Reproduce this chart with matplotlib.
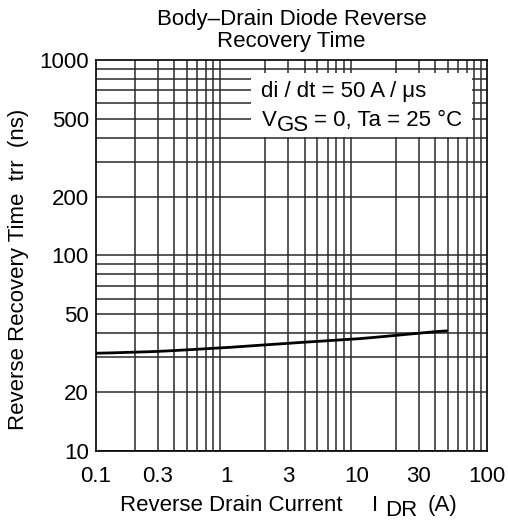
import matplotlib
matplotlib.use("Agg")
import matplotlib.pyplot as plt
from matplotlib.patches import Rectangle
import numpy as np

plt.rcParams['font.family'] = ['Liberation Sans', 'DejaVu Sans']

# trr vs reverse drain current
current = [0.1, 0.3, 1, 3, 10, 30, 50]
trr = [31.5, 32.2, 33.7, 35.5, 37.3, 39.9, 41.3]

x_ticks = [0.1, 0.3, 1, 3, 10, 30, 100]
x_labels = ['0.1', '0.3', '1', '3', '10', '30', '100']
y_ticks = [10, 20, 50, 100, 200, 500, 1000]
y_labels = ['10', '20', '50', '100', '200', '500', '1000']

FS = 16
W, H = 508, 520

fig = plt.figure(figsize=(W / 100, H / 100), dpi=100)
ax = fig.add_axes([95.7 / W, 1 - 450.7 / H, 391.3 / W, 390.7 / H])
ax.set_xscale('log')
ax.set_yscale('log')
ax.set_xlim(0.1, 100)
ax.set_ylim(10, 1000)

# full log grid, 1-9 in every decade
for dec in [0.1, 1, 10]:
    for m in range(2, 10):
        ax.axvline(dec * m, color='#2a2a2a', lw=1.1, zorder=1)
for dec in [10, 100]:
    for m in range(1, 10):
        ax.axhline(dec * m, color='#2a2a2a', lw=1.1, zorder=1)

# smooth curve through the read points (interpolate in log space)
lx = np.log10(current)
xs = np.linspace(lx[0], lx[-1], 200)
ys = np.interp(xs, lx, np.log10(trr))
ys = np.convolve(np.pad(ys, 10, mode='edge'), np.ones(21) / 21, mode='valid')
ax.plot(10 ** xs, 10 ** ys, color='black', lw=2.0, zorder=3, solid_capstyle='butt')

# white box behind the conditions text
ax.add_patch(Rectangle((0.397, 0.803), 0.565, 0.164, transform=ax.transAxes,
                       facecolor='white', edgecolor='none', zorder=2))

ax.set_xticks(x_ticks)
ax.set_xticklabels(x_labels)
ax.set_yticks(y_ticks)
ax.set_yticklabels(y_labels)
ax.minorticks_off()
ax.tick_params(length=0, labelsize=FS)
ax.tick_params(axis='x', pad=11)
ax.tick_params(axis='y', pad=5)
for s in ax.spines.values():
    s.set_linewidth(1.2)
    s.set_zorder(4)

fig.text(291.5 / W, 1 - 25 / H, 'Body\u2013Drain Diode Reverse', ha='center',
         va='baseline', fontsize=FS)
fig.text(291.5 / W, 1 - 47 / H, 'Recovery Time', ha='center', va='baseline', fontsize=FS)

fig.text(19 / W, 1 - 269 / H, 'Reverse Recovery Time  trr  (ns)', rotation=90,
         ha='center', va='center', fontsize=FS)


def put(x, y, txt):
    fig.text(x / W, 1 - y / H, txt, ha='left', va='baseline', fontsize=FS)


# axis title with the lowered "DR"
put(120, 511, 'Reverse Drain Current')
put(372, 511, 'I')
put(385, 516, 'DR')
put(428, 511, '(A)')

# test conditions
put(261, 97, 'di / dt = 50 A / \u03bcs')
put(262, 126, 'V')
put(277, 131, 'GS')
put(314, 126, '= 0, Ta = 25 \u00b0C')

fig.savefig('out.png', dpi=100)
